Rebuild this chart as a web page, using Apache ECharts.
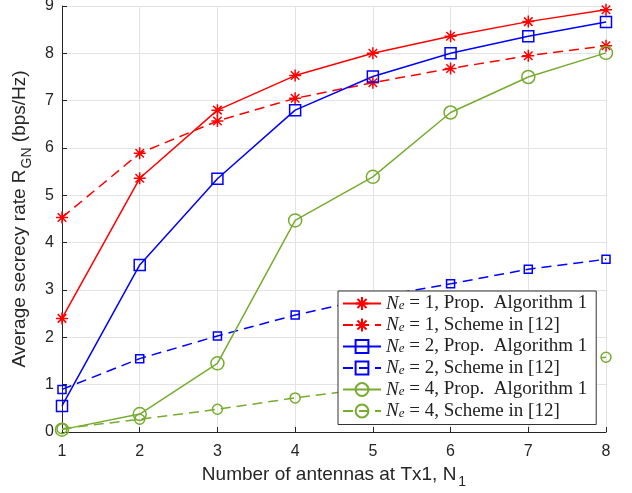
<!DOCTYPE html>
<html>
<head>
<meta charset="utf-8">
<script src="https://cdn.jsdelivr.net/npm/echarts@6/dist/echarts.min.js"></script>
<style>
  html, body { margin: 0; padding: 0; background: #fff; }
  #chart { width: 632px; height: 493px; }
</style>
</head>
<body>
<div id="chart"></div>
<script>
// x values: number of antennas
const antennas = [1, 2, 3, 4, 5, 6, 7, 8]
// Ne = 1
const ne1Prop = [2.40, 5.36, 6.80, 7.53, 8.00, 8.36, 8.67, 8.92]
const ne1Scheme = [4.53, 5.89, 6.57, 7.05, 7.38, 7.68, 7.95, 8.16]
// Ne = 2
const ne2Prop = [0.55, 3.53, 5.35, 6.80, 7.51, 8.00, 8.36, 8.66]
const ne2Scheme = [0.90, 1.55, 2.03, 2.47, 2.84, 3.13, 3.44, 3.65]
// Ne = 4
const ne4Prop = [0.05, 0.38, 1.45, 4.47, 5.39, 6.75, 7.50, 8.01]
const ne4Scheme = [0.07, 0.27, 0.48, 0.72, 0.93, 1.14, 1.37, 1.58]

const yTicks = [0, 1, 2, 3, 4, 5, 6, 7, 8, 9]

const RED = '#ff0000'
const BLUE = '#0000ff'
const GREEN = '#77ac30'
const STAR = 'path://M5,0L5,10M0,5L10,5M1.46,1.46L8.54,8.54M8.54,1.46L1.46,8.54'

const pairs = arr => antennas.map((x, i) => [x, arr[i]])

// 一条曲线的配置
const makeSeries = (name, data, color, dashed, symbol, size) => ({
  name: name,
  type: 'line',
  data: pairs(data),
  symbol: symbol,
  symbolSize: size,
  showSymbol: true,
  lineStyle: { color: color, width: 1.5, type: dashed ? [10, 6] : 'solid' },
  itemStyle: {
    color: symbol === STAR ? color : 'rgba(255,255,255,0)',
    borderColor: color,
    borderWidth: 1.5
  },
  emphasis: { disabled: true },
  animation: false
})

const names = [
  '{i|N}{s|e} = 1, Prop.  Algorithm 1',
  '{i|N}{s|e} = 1, Scheme in [12]',
  '{i|N}{s|e} = 2, Prop.  Algorithm 1',
  '{i|N}{s|e} = 2, Scheme in [12]',
  '{i|N}{s|e} = 4, Prop.  Algorithm 1',
  '{i|N}{s|e} = 4, Scheme in [12]'
]

const option = {
  backgroundColor: '#fff',
  textStyle: { fontFamily: 'Liberation Sans' },
  grid: { left: 62, right: 26, top: 6, bottom: 61, outerBoundsMode: 'none' },
  legend: {
    data: names,
    orient: 'vertical',
    left: 338,
    top: 291,
    backgroundColor: '#fff',
    borderColor: '#333',
    borderWidth: 1,
    borderRadius: 0,
    padding: [3, 9, 4, 4],
    itemGap: 2.5,
    itemWidth: 38,
    itemHeight: 16,
    formatter: n => n,
    textStyle: {
      fontFamily: 'Liberation Serif',
      fontSize: 19,
      lineHeight: 18,
      color: '#222',
      rich: {
        i: { fontFamily: 'Liberation Serif', fontStyle: 'italic', fontSize: 19, lineHeight: 18, color: '#222' },
        s: { fontFamily: 'Liberation Serif', fontStyle: 'italic', fontSize: 13, lineHeight: 8, verticalAlign: 'bottom', color: '#222' }
      }
    }
  },
  xAxis: {
    type: 'value',
    min: 1,
    max: 8,
    interval: 1,
    name: 'Number of antennas at Tx1, N{sub|1}',
    nameLocation: 'middle',
    nameGap: 27,
    nameTextStyle: {
      fontSize: 19,
      color: '#262626',
      rich: { sub: { fontSize: 14, color: '#262626', padding: [16, 0, 0, 2] } }
    },
    axisLine: { lineStyle: { color: '#262626', width: 1 } },
    axisTick: { inside: true, length: 5, lineStyle: { color: '#262626' } },
    axisLabel: { fontSize: 16, color: '#262626', margin: 12 },
    splitLine: { show: true, lineStyle: { color: '#e3e3e3', width: 1 } }
  },
  yAxis: {
    type: 'value',
    min: yTicks[0],
    max: yTicks[yTicks.length - 1],
    interval: 1,
    name: 'Average secrecy rate R{sub|GN} (bps/Hz)',
    nameLocation: 'middle',
    nameGap: 22,
    nameTextStyle: {
      fontSize: 19,
      color: '#262626',
      rich: { sub: { fontSize: 14, color: '#262626', padding: [14, 0, 0, 1] } }
    },
    axisLine: { show: true, lineStyle: { color: '#262626', width: 1 } },
    axisTick: { show: true, inside: true, length: 5, lineStyle: { color: '#262626' } },
    axisLabel: { fontSize: 16, color: '#262626', margin: 8 },
    splitLine: { show: true, lineStyle: { color: '#e3e3e3', width: 1 } }
  },
  series: [
    makeSeries(names[0], ne1Prop, RED, false, STAR, 12),
    makeSeries(names[1], ne1Scheme, RED, true, STAR, 12),
    makeSeries(names[2], ne2Prop, BLUE, false, 'rect', 11),
    makeSeries(names[3], ne2Scheme, BLUE, true, 'rect', 8),
    makeSeries(names[4], ne4Prop, GREEN, false, 'circle', 13),
    makeSeries(names[5], ne4Scheme, GREEN, true, 'circle', 10)
  ]
}

const myChart = echarts.init(document.getElementById('chart'))
myChart.setOption(option)
</script>
</body>
</html>
